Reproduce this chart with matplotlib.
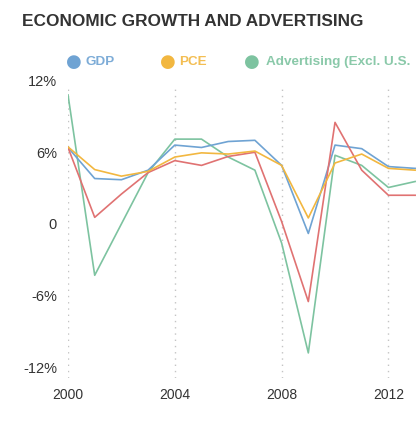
import numpy as np
from matplotlib import pyplot as plt

years = np.arange(2000, 2014)
gdp = [6.4, 3.8, 3.7, 4.5, 6.6, 6.4, 6.9, 7.0, 4.9, -0.8, 6.6, 6.3, 4.8, 4.65]
pce = [6.45, 4.55, 4.0, 4.4, 5.6, 5.95, 5.85, 6.1, 4.9, 0.5, 5.1, 5.85, 4.65, 4.5]
adv_excl = [10.8, -4.3, 0.0, 4.3, 7.1, 7.1, 5.6, 4.5, -1.6, -10.8, 5.75, 4.9, 3.05, 3.55]
adv_red = [6.4, 0.55, 2.5, 4.3, 5.3, 4.9, 5.65, 6.0, 0.2, -6.5, 8.5, 4.5, 2.4, 2.4]

yticks = [-12, -6, 0, 6, 12]
ylabels = ["-12%", "-6%", "0", "6%", "12%"]
xticks = [2000, 2004, 2008, 2012]

blue = "#6fa3d3"
yellow = "#f2b740"
green = "#7dc3a0"
red = "#e07272"
text_col = "#333333"

fig = plt.figure(figsize=(4.17, 4.21), dpi=100)
ax = fig.add_axes([68/417.0, 1-378/421.0, 1-68/417.0, (378-78.2)/421.0])

ax.vlines(xticks, -12.9, 11.5, colors="#c4c4c4", linestyles=(0, (1, 3.5)), linewidth=1.0, zorder=1)

ax.plot(years, adv_excl, color=green, linewidth=1.2, zorder=3)
ax.plot(years, gdp, color=blue, linewidth=1.2, zorder=4)
ax.plot(years, adv_red, color=red, linewidth=1.2, zorder=5)
ax.plot(years, pce, color=yellow, linewidth=1.2, zorder=6)

ax.set_xlim(2000, 2013.07)
ax.set_ylim(-12.9, 12.2)
ax.set_yticks(yticks)
ax.set_yticklabels(ylabels)
ax.set_xticks(xticks)
ax.set_xticklabels([str(x) for x in xticks])
ax.tick_params(length=0, colors=text_col)
ax.tick_params(axis="x", pad=7)
ax.tick_params(axis="y", pad=8)
for s in ax.spines.values():
    s.set_visible(False)
ax.patch.set_alpha(0)
for lab in ax.get_xticklabels():
    lab.set_family("Liberation Sans")
    lab.set_fontsize(10)
for lab in ax.get_yticklabels():
    lab.set_family("Liberation Sans")
    lab.set_fontsize(10.5)

fig.text(22/417.0, 1-21/421.0, "ECONOMIC GROWTH AND ADVERTISING", fontsize=12.4,
         fontweight="bold", color=text_col, family="Liberation Sans", va="center", ha="left")

# legend text is cut at the right edge in the original, keep the visible part
legend = [("GDP", blue, 74, 86), ("PCE", yellow, 168, 179), ("Advertising (Excl. U.S.", green, 252, 266)]
for name, col, cx, tx in legend:
    fig.text(cx/417.0, 1-62/421.0, u"\u25cf", fontsize=13, color=col, va="center", ha="center",
             family="DejaVu Sans")
    fig.text(tx/417.0, 1-62/421.0, name, fontsize=9.7, color=col, fontweight="bold",
             family="Liberation Sans", va="center", ha="left", alpha=0.9)

plt.savefig("out.png", dpi=100)
